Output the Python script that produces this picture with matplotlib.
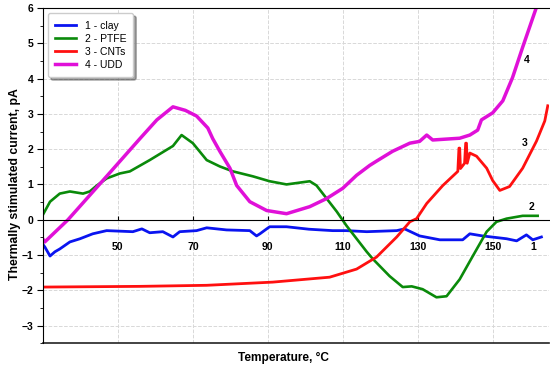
import matplotlib.pyplot as plt
from matplotlib.ticker import MultipleLocator, FixedLocator

plt.rcParams['font.family'] = ['Liberation Sans', 'DejaVu Sans']

# 1 - clay
clay_t = [30.0, 30.5, 31.9, 33.2, 34.5, 37.2, 39.9, 43.3, 47.0, 54.0, 56.4, 58.5, 62.0, 64.7,
          66.5, 71.0, 73.7, 79.0, 85.2, 87.0, 87.9, 89.7, 90.5, 95.0, 101.0, 107.3, 111.0,
          116.4, 124.4, 126.5, 130.5, 135.9, 142.0, 143.9, 147.3, 153.7, 156.4, 159.0,
          160.7, 163.0]
clay_i = [-0.70, -0.77, -1.03, -0.91, -0.83, -0.63, -0.54, -0.40, -0.31, -0.34, -0.26, -0.37,
          -0.34, -0.49, -0.34, -0.31, -0.23, -0.29, -0.31, -0.46, -0.40, -0.26, -0.20, -0.20,
          -0.27, -0.31, -0.31, -0.34, -0.31, -0.26, -0.46, -0.57, -0.57, -0.40, -0.46, -0.54,
          -0.60, -0.43, -0.57, -0.49]

# 2 - PTFE
ptfe_t = [30.0, 31.9, 34.5, 37.2, 40.7, 42.5, 44.4, 47.0, 50.5, 53.2, 58.5, 64.7, 67.0, 70.0,
          73.7, 77.2, 80.7, 86.0, 90.5, 95.0, 101.2, 103.0, 105.7, 108.4, 111.0, 116.4, 118.0,
          122.5, 126.0, 128.4, 131.3, 135.0, 137.7, 141.2, 144.7, 148.4, 151.0, 153.7, 158.0,
          162.0]
ptfe_i = [0.14, 0.51, 0.74, 0.80, 0.74, 0.80, 0.97, 1.17, 1.31, 1.37, 1.69, 2.09, 2.40, 2.17,
          1.69, 1.51, 1.37, 1.23, 1.09, 1.00, 1.09, 0.97, 0.60, 0.23, -0.17, -0.91, -1.11,
          -1.60, -1.91, -1.89, -1.97, -2.20, -2.17, -1.69, -1.03, -0.34, -0.06, 0.03, 0.11,
          0.11]

# 3 - CNTs
cnt_t = [30.0, 55.9, 73.7, 91.3, 106.5, 113.7, 119.0, 124.4, 127.9, 129.7, 132.4, 136.7,
         140.7, 141.0, 141.2, 141.4, 142.5, 142.8, 143.0, 143.2, 143.9, 145.7, 148.4, 150.0,
         151.9, 154.5, 158.0, 161.7, 163.9, 164.7]
cnt_i = [-1.91, -1.89, -1.86, -1.77, -1.63, -1.40, -1.06, -0.49, -0.06, 0.03, 0.46, 0.97,
         1.37, 2.03, 2.03, 1.45, 1.60, 2.17, 2.17, 1.60, 1.89, 1.80, 1.46, 1.11, 0.83, 0.94,
         1.46, 2.23, 2.80, 3.23]

# 4 - UDD
udd_t = [30.0, 30.5, 36.7, 47.0, 55.9, 60.4, 64.7, 68.0, 71.0, 74.0, 75.3, 77.2, 79.9, 81.7,
         85.2, 89.7, 95.0, 101.2, 105.7, 110.0, 113.7, 117.2, 119.0, 123.3, 127.9, 130.5,
         132.4, 134.0, 141.2, 143.9, 146.0, 147.0, 150.0, 152.7, 155.3, 158.0, 161.7]
udd_i = [-0.55, -0.63, 0.00, 1.23, 2.30, 2.83, 3.20, 3.10, 2.94, 2.60, 2.30, 1.94, 1.46, 0.97,
         0.51, 0.26, 0.17, 0.37, 0.60, 0.89, 1.26, 1.54, 1.66, 1.94, 2.17, 2.22, 2.40, 2.26,
         2.31, 2.40, 2.54, 2.83, 3.03, 3.37, 4.03, 4.89, 6.03]

fig = plt.figure(figsize=(5.5, 3.67), dpi=100)
ax = fig.add_axes([0.078, 0.065, 0.92, 0.913])

ax.plot(clay_t, clay_i, color='#0a14f0', lw=2.0, label='1 - clay')
ax.plot(ptfe_t, ptfe_i, color='#0a8a0a', lw=1.9, label='2 - PTFE')
ax.plot(cnt_t, cnt_i, color='#ff1010', lw=2.0, label='3 - CNTs')
ax.plot(udd_t, udd_i, color='#e010d8', lw=2.5, label='4 - UDD')

ax.set_xlim(30, 165)
ax.set_ylim(-3.5, 6)

ax.spines['bottom'].set_position(('data', 0))
ax.spines['right'].set_visible(False)
ax.plot([0, 1], [0, 0], transform=ax.transAxes, color='#222222', lw=1.2, clip_on=False)

ax.xaxis.set_major_locator(FixedLocator([50, 70, 90, 110, 130, 150]))
ax.yaxis.set_major_locator(MultipleLocator(1))
ax.yaxis.set_minor_locator(MultipleLocator(0.5))
ax.tick_params(axis='x', direction='in', length=3, labelsize=7.5, pad=16)
ax.tick_params(axis='y', which='major', length=4, labelsize=7.5, pad=3)
ax.tick_params(axis='y', which='minor', length=2)
for lab in ax.get_xticklabels() + ax.get_yticklabels():
    lab.set_fontweight('bold')
ax.text(160.7, -0.77, '1', fontsize=7.5, fontweight='bold', ha='center', va='center')

ax.grid(True, linestyle='--', color='#d8d8d8', lw=0.7)
ax.set_axisbelow(True)

ax.text(159, 4.54, '4', fontsize=7.5, fontweight='bold', ha='center', va='center')
ax.text(158.5, 2.17, '3', fontsize=7.5, fontweight='bold', ha='center', va='center')
ax.text(160.4, 0.37, '2', fontsize=7.5, fontweight='bold', ha='center', va='center')

ax.set_ylabel('Thermally stimulated current, pA', fontsize=8.8, fontweight='bold')
ax.yaxis.set_label_coords(-0.043, 0.476)
fig.text(0.515, 0.025, 'Temperature, °C', fontsize=8.6, fontweight='bold', ha='center', va='center')

ax.legend(loc='upper left', fontsize=7.5, shadow=True, fancybox=True,
          handlelength=2.0, borderpad=0.7, labelspacing=0.3)

plt.savefig('out.png', dpi=100)
